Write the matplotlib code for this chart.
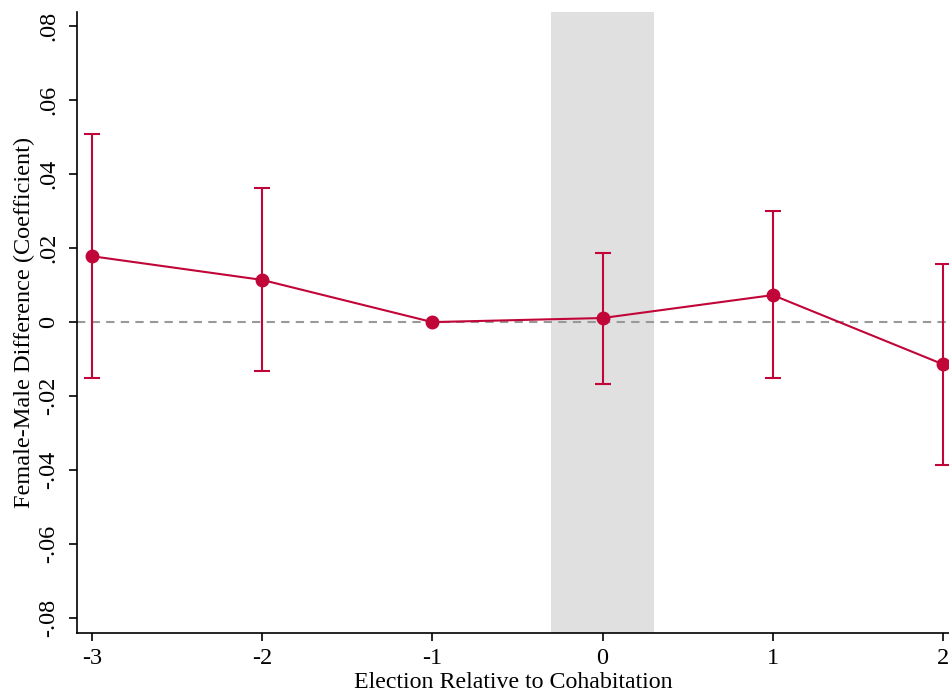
import numpy as np
import matplotlib.pyplot as plt

plt.rcParams['font.family'] = ['Liberation Serif', 'DejaVu Serif']

# event time relative to cohabitation
periods = [-3, -2, -1, 0, 1, 2]
coef = [0.0178, 0.0114, 0.0, 0.0011, 0.0073, -0.0114]
ci_low = [-0.0151, -0.0132, np.nan, -0.0168, -0.0151, -0.0386]
ci_high = [0.0508, 0.0362, np.nan, 0.0186, 0.0300, 0.0157]

yticks = [-0.08, -0.06, -0.04, -0.02, 0, 0.02, 0.04, 0.06, 0.08]
ytick_labels = ['-.08', '-.06', '-.04', '-.02', '0', '.02', '.04', '.06', '.08']

red = '#c10538'

fig = plt.figure(figsize=(9.49, 6.98), dpi=100)
ax = fig.add_axes([0.081, 0.093, 0.919, 0.890])

# shaded treatment period
ax.axvspan(-0.3, 0.3, color='#e0e0e0', lw=0, zorder=0)
ax.axhline(0, color='#999999', ls=(0, (4, 3)), lw=1.5, zorder=1)

x = np.array(periods)
c = np.array(coef)
lo = np.array(ci_low)
hi = np.array(ci_high)
has_ci = ~np.isnan(lo)

ax.errorbar(x[has_ci], c[has_ci], yerr=[c[has_ci] - lo[has_ci], hi[has_ci] - c[has_ci]],
            fmt='none', ecolor=red, elinewidth=1.5, capsize=6, capthick=1.5, zorder=2)
ax.plot(x, c, color=red, lw=1.5, marker='o', markersize=9, zorder=3)

ax.set_xlim(-3.088, 2.035)
ax.set_ylim(-0.084, 0.0838)
ax.set_xticks(periods)
ax.set_xticklabels([str(p) for p in periods])
ax.set_yticks(yticks)
ax.set_yticklabels(ytick_labels, rotation=90, va='center')

ax.spines['top'].set_visible(False)
ax.spines['right'].set_visible(False)
ax.spines['left'].set_linewidth(1.2)
ax.spines['bottom'].set_linewidth(1.2)
ax.tick_params(direction='out', length=5.8, width=1.2, labelsize=17.5)
ax.tick_params(axis='x', pad=5)
ax.tick_params(axis='y', pad=7)

ax.set_xlabel('Election Relative to Cohabitation', fontsize=17.2, labelpad=2)
ax.set_ylabel('Female-Male Difference (Coefficient)', fontsize=17.5, labelpad=2)

fig.savefig('out.png', dpi=100)
